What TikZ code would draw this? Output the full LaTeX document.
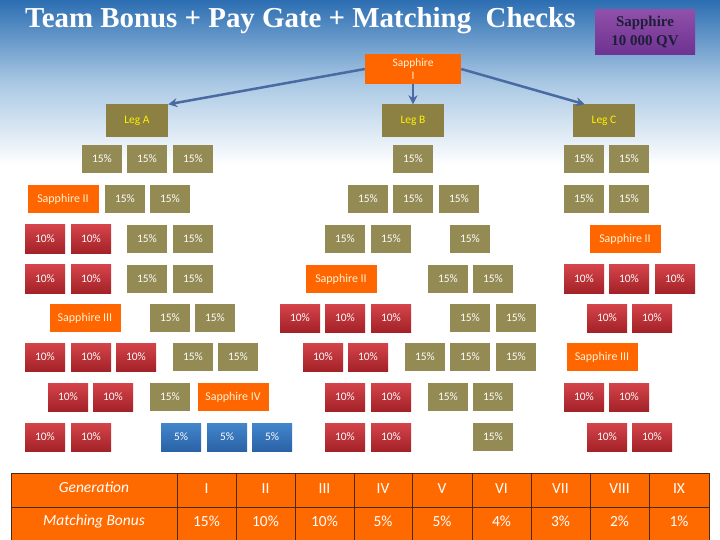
\documentclass[tikz,border=0pt]{standalone}
\usepackage{fontspec}
\setmainfont{Carlito}
\newfontfamily\titlefont{Liberation Serif}
\usetikzlibrary{arrows.meta}
\definecolor{bgtop}{HTML}{2C6EB2}
\definecolor{bgmid}{HTML}{A9C8E4}
\definecolor{boxolive}{HTML}{948A54}
\definecolor{legolive}{HTML}{8C8042}
\definecolor{redtop}{HTML}{D4444A}
\definecolor{redbot}{HTML}{A32228}
\definecolor{bluetop}{HTML}{4386CC}
\definecolor{bluebot}{HTML}{2A62A6}
\definecolor{boxorange}{HTML}{FF6600}
\definecolor{paletext}{HTML}{FFF2D6}
\definecolor{arrowblue}{HTML}{4A6AA2}
\definecolor{purptop}{HTML}{9050AA}
\definecolor{purpbot}{HTML}{6E3290}
\definecolor{purptext}{HTML}{1E1E3A}
\definecolor{taborange}{HTML}{FF6A00}
\definecolor{tabline}{HTML}{4A2A12}
\tikzset{
  cell/.style={minimum width=40bp, minimum height=28bp, inner sep=0pt, text=white,
    font=\fontsize{11.5}{12}\selectfont},
  oc/.style={cell, fill=boxolive},
  rc/.style={cell, top color=redtop, bottom color=redbot},
  bc/.style={cell, top color=bluetop, bottom color=bluebot},
  sap/.style={cell, fill=boxorange, text=paletext, minimum width=71bp, font=\fontsize{12}{13}\selectfont},
  legbox/.style={minimum width=62bp, minimum height=33bp, inner sep=0pt, fill=legolive,
    text=yellow, font=\fontsize{11.5}{12}\selectfont},
  arr/.style={draw=arrowblue, line width=2.5bp, -{Stealth[length=9bp,width=9bp]}},
  tabtxt/.style={text=white, font=\fontsize{15.5}{16}\selectfont, inner sep=0pt},
  tabhead/.style={text=white, font=\itshape\fontsize{15.5}{16}\selectfont, inner sep=0pt}
}
\begin{document}
\begin{tikzpicture}[x=1bp, y=-1bp]
\useasboundingbox (0,0) rectangle (720,540);
% background
\fill[white] (0,0) rectangle (720,540);
\fill[top color=bgtop, bottom color=white, middle color=bgmid] (0,0) rectangle (720,165);
% title
\node[anchor=west, text=white, inner sep=0pt, font=\titlefont\bfseries\fontsize{29}{30}\selectfont] (title) at (25,21) {Team Bonus + Pay Gate + Matching\ \ Checks};
\node[minimum width=100bp, minimum height=45bp, inner sep=0pt, top color=purptop, bottom color=purpbot,
  text=purptext, align=center, font=\titlefont\bfseries\fontsize{15}{20}\selectfont] (qv) at (645,32) {Sapphire\\10 000 QV};
% top of the tree
\node[minimum width=96bp, minimum height=30bp, inner sep=0pt, fill=boxorange, text=paletext, align=center,
  font=\fontsize{11.5}{13}\selectfont] (sI) at (413,69) {Sapphire\\I};
\node[legbox] (legA) at (137,121) {Leg A};
\node[legbox] (legB) at (413,121) {Leg B};
\node[legbox] (legC) at (604,121) {Leg C};
\draw[arr] (sI.west) -- (legA.north east);
\draw[arr] (sI.south) -- (legB.north);
\draw[arr] (sI.east) -- ([xshift=12bp]legC.north west);
% 15% boxes
\foreach \x/\y [count=\i] in {102/159,147/159,193/159,413/159,584/159,629/159,
  125/199,170/199,368/199,413/199,459/199,584/199,629/199,
  147/239,193/239,345/239,391/239,470/239,
  147/279,193/279,448/279,493/279,
  170/318,215/318,470/318,516/318,
  193/357,238/357,425/357,470/357,516/357,
  170/397,448/397,493/397,
  493/437}
  \node[oc] (o\i) at (\x,\y) {15\%};
% 10% boxes
\foreach \x/\y [count=\i] in {45/239,91/239,
  45/279,91/279,584/279,629/279,675/279,
  300/318,345/318,391/318,607/318,652/318,
  45/357,91/357,136/357,323/357,368/357,
  68/397,113/397,345/397,391/397,584/397,629/397,
  45/437,91/437,345/437,391/437,607/437,652/437}
  \node[rc] (r\i) at (\x,\y) {10\%};
% 5% boxes
\foreach \x [count=\i] in {181,227,272}
  \node[bc] (b\i) at (\x,437) {5\%};
% Sapphire ranks
\node[sap] (s2a) at (63,199) {Sapphire II};
\node[sap] (s2b) at (625,239) {Sapphire II};
\node[sap] (s2c) at (341,279) {Sapphire II};
\node[sap] (s3a) at (85,318) {Sapphire III};
\node[sap] (s3b) at (602,357) {Sapphire III};
\node[sap] (s4) at (233,397) {Sapphire IV};
% table
\fill[taborange] (11,473) rectangle (709,541);
\draw[tabline, line width=0.8bp] (11,473) rectangle (709,541);
\draw[tabline, line width=0.8bp] (11,507) -- (709,507);
\foreach \x in {177,236,295,354,412,472,531,590,649}
  \draw[tabline, line width=0.8bp] (\x,473) -- (\x,541);
\node[tabhead] (gen) at (94,487) {Generation};
\node[tabhead] (mb) at (94,521) {Matching Bonus};
\foreach \x/\g/\p [count=\i] in {206.5/I/15,265.5/II/10,324.5/III/10,383/IV/5,442/V/5,
  501.5/VI/4,560.5/VII/3,619.5/VIII/2,679/IX/1}
{
  \node[tabtxt] (g\i) at (\x,489) {\g};
  \node[tabtxt] (p\i) at (\x,521) {\p\%};
}
\end{tikzpicture}
\end{document}
